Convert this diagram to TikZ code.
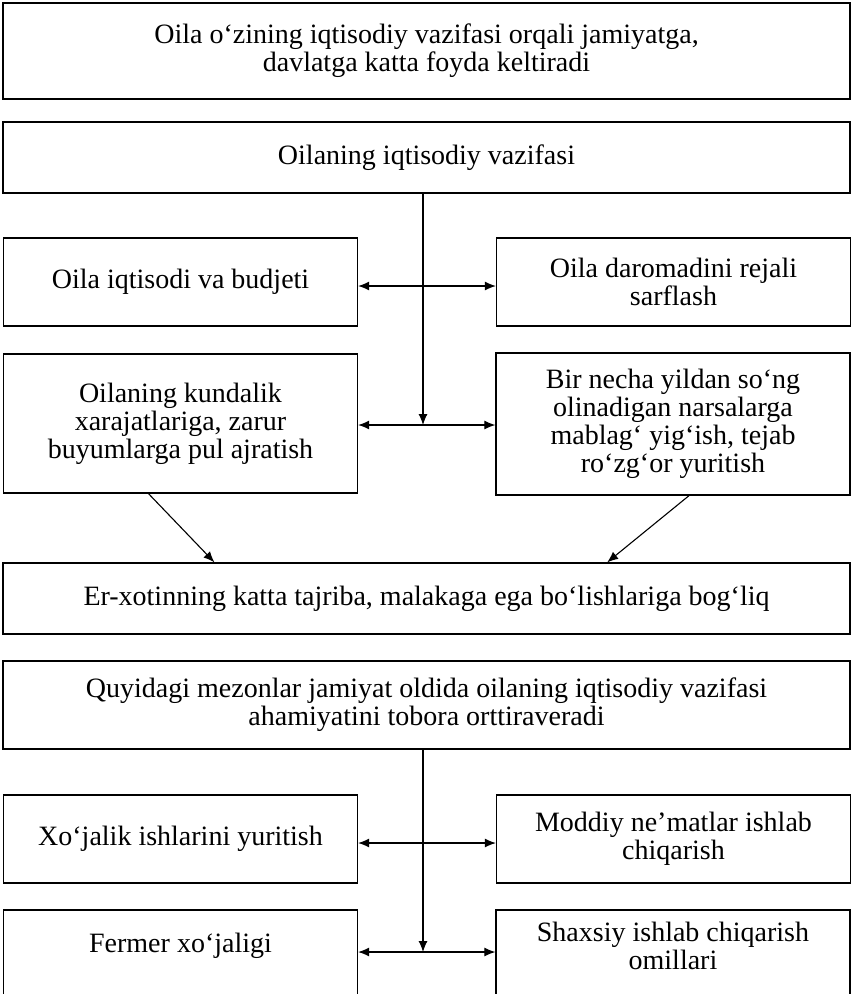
\documentclass[tikz,border=0pt]{standalone}
\usepackage{fontspec}
\setmainfont{Liberation Serif}
\usetikzlibrary{arrows.meta,calc}
\begin{document}
\begin{tikzpicture}[x=1pt,y=-1pt,
  frame/.style={draw, line width=1.3pt, inner sep=0pt, align=center,
    font=\fontsize{28}{28}\selectfont},
  label/.style={inner sep=0pt, align=center, font=\fontsize{28}{28}\selectfont},
  wide/.style={minimum width=847pt},
  half/.style={minimum width=354pt},
  link/.style={line width=1.1pt, -{Latex[length=11pt,width=9pt]}},
  twoway/.style={line width=1.1pt, {Latex[length=11pt,width=9pt]}-{Latex[length=11pt,width=9pt]}}]
\useasboundingbox (0,0) rectangle (852,994);
\fill[white] (0,0) rectangle (852,994);

% upper block
\node[frame, wide, minimum height=96pt] (top) at (426.5,51)
  {Oila o‘zining iqtisodiy vazifasi orqali jamiyatga,\\davlatga katta foyda keltiradi};
\node[frame, wide, minimum height=71pt] (func) at (426.5,157.5)
  {Oilaning iqtisodiy vazifasi};
\node[frame, half, minimum height=88pt] (l1) at (180.5,282)
  {Oila iqtisodi va budjeti};
\node[frame, half, minimum height=88pt] (r1) at (673.5,282)
  {Oila daromadini rejali\\sarflash};
\node[frame, half, minimum height=139pt] (l2) at (180.5,423.5)
  {Oilaning kundalik\\xarajatlariga, zarur\\buyumlarga pul ajratish};
\node[frame, half, minimum height=142pt] (r2) at (673,424)
  {Bir necha yildan so‘ng\\olinadigan narsalarga\\mablag‘ yig‘ish, tejab\\ro‘zg‘or yuritish};
\node[frame, wide, minimum height=71pt] (skill) at (426.5,598.5)
  {Er-xotinning katta tajriba, malakaga ega bo‘lishlariga bog‘liq};

% lower block
\node[frame, wide, minimum height=88pt] (crit) at (426.5,705)
  {Quyidagi mezonlar jamiyat oldida oilaning iqtisodiy vazifasi\\ahamiyatini tobora orttiraveradi};
\node[frame, half, minimum height=88pt] (l3) at (180.5,839)
  {Xo‘jalik ishlarini yuritish};
\node[frame, half, minimum height=88pt] (r3) at (673.5,839)
  {Moddiy ne’matlar ishlab\\chiqarish};
\begin{scope}
  \clip (0,0) rectangle (852,994);
  \node[frame, half, minimum height=100pt] (l4) at (180.5,960) {};
  \node[frame, half, minimum height=100pt] (r4) at (673,960) {};
\end{scope}
\node[label] (l4t) at (180.5,946) {Fermer xo‘jaligi};
\node[label] (r4t) at (673,946) {Shaxsiy ishlab chiqarish\\omillari};

% connectors of the upper block
\coordinate (h1) at (423,286);
\coordinate (j1) at (423,425);
\draw[link] (j1 |- func.south) -- (j1);
\draw[twoway] (l1.east |- h1) -- (r1.west |- h1);
\draw[twoway] (l2.east |- j1) -- (r2.west |- j1);
\draw[link] ($(l2.south west)!0.41!(l2.south east)$) -- ($(skill.north west)!0.25!(skill.north east)$);
\draw[link] ($(r2.south west)!0.545!(r2.south east)$) -- ($(skill.north west)!0.713!(skill.north east)$);

% connectors of the lower block
\coordinate (h3) at (423,843);
\coordinate (j2) at (423,952);
\draw[link] (j2 |- crit.south) -- (j2);
\draw[twoway] (l3.east |- h3) -- (r3.west |- h3);
\draw[twoway] (l4.east |- j2) -- (r4.west |- j2);
\end{tikzpicture}
\end{document}
